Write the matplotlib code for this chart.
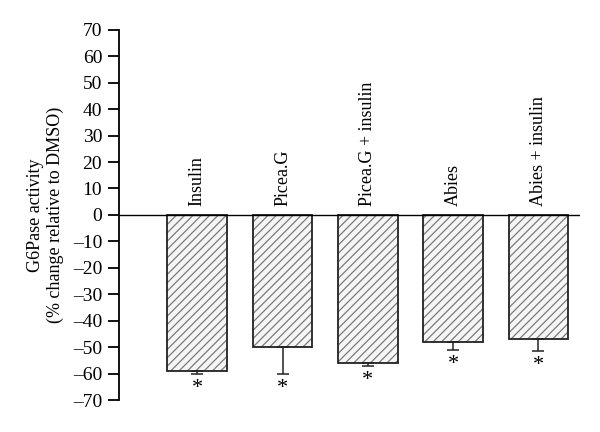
import matplotlib.pyplot as plt
import numpy as np

plt.rcParams['font.family'] = 'serif'
plt.rcParams['font.serif'] = ['Liberation Serif', 'DejaVu Serif']
plt.rcParams['hatch.linewidth'] = 0.9

groups = ["Insulin", "Picea.G", "Picea.G + insulin", "Abies", "Abies + insulin"]
values = [-59, -50, -56, -48, -47]
errors = [1.0, 10.0, 1.2, 3.0, 4.5]
yticks = list(range(-70, 71, 10))

x = np.arange(len(groups))

fig = plt.figure(figsize=(6, 4.32), dpi=100)
ax = fig.add_axes([0.198, 0.074, 0.769, 0.857])

# hatch fill, then black outline on top
ax.bar(x, values, width=0.7, color='#f6f6f6', edgecolor='#7a7a7a', hatch='////', linewidth=0)
ax.bar(x, values, width=0.7, fill=False, edgecolor='#222222', linewidth=1.3)
ax.errorbar(x, values, yerr=[errors, [0] * len(x)], fmt='none', ecolor='#222222',
            elinewidth=1.1, capsize=4, capthick=1.1)

for xi, v, e in zip(x, values, errors):
    ax.text(xi, v - e - 5.5, '*', ha='center', va='center', fontsize=16)

for xi, g in zip(x, groups):
    ax.text(xi, 3.5, g, rotation=90, ha='center', va='bottom', fontsize=13)

ax.axhline(0, color='black', linewidth=1)
ax.set_xlim(-0.92, 4.49)
ax.set_ylim(-70, 70)
ax.set_yticks(yticks)
ax.set_yticklabels([str(t).replace('-', '\u2013') for t in yticks])
ax.set_xticks([])
for s in ['top', 'right', 'bottom']:
    ax.spines[s].set_visible(False)
ax.spines['left'].set_linewidth(1.3)
ax.tick_params(axis='y', direction='out', length=8, width=1.3, pad=4, labelsize=14)
ax.set_ylabel("G6Pase activity\n(% change relative to DMSO)", fontsize=13, labelpad=6)

fig.savefig('out.png', dpi=100)
